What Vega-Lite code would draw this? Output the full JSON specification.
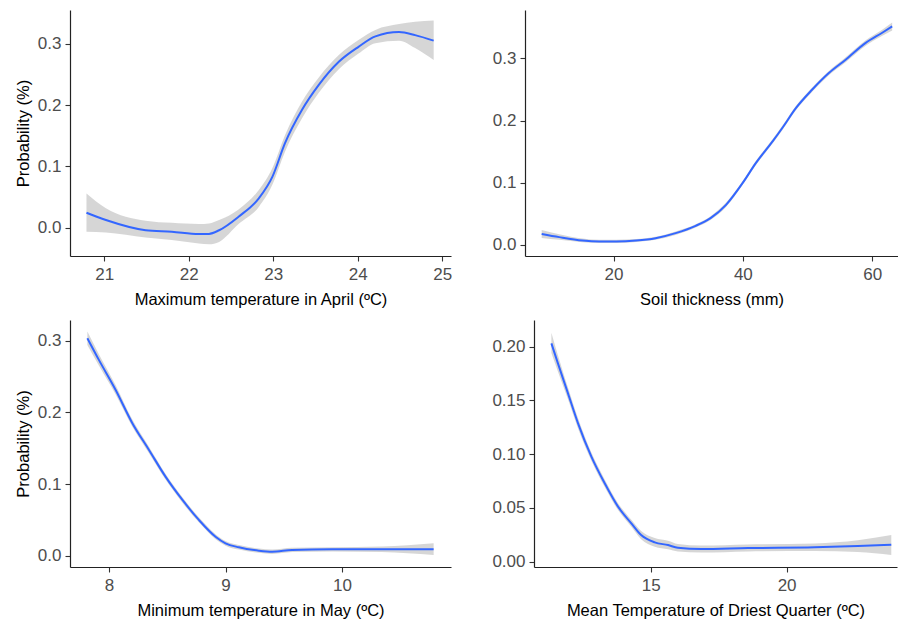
{
  "$schema": "https://vega.github.io/schema/vega-lite/v6.json",
  "background": "white",
  "padding": {"left": 15, "top": 10, "right": 0, "bottom": 0},
  "config": {
    "view": {"stroke": null},
    "font": "Liberation Sans",
    "axis": {
      "grid": false,
      "domainColor": "#222222",
      "domainWidth": 1.2,
      "tickColor": "#333333",
      "tickSize": 5,
      "tickWidth": 1.1,
      "labelColor": "#4D4D4D",
      "labelFont": "Liberation Sans",
      "labelFontSize": 17,
      "labelPadding": 4,
      "labelFlush": false,
      "labelOverlap": false,
      "titleFont": "Liberation Sans",
      "titleFontSize": 16.5,
      "titleFontWeight": "normal",
      "titleColor": "#000000"
    },
    "axisX": {"titlePadding": 9, "labelPadding": 5},
    "axisY": {"titlePadding": 6}
  },
  "datasets": {
    "p1": [
      {"x": 20.79, "y": 0.0245, "lo": -0.0065, "hi": 0.056},
      {"x": 21.02, "y": 0.0126, "lo": -0.0075, "hi": 0.032},
      {"x": 21.49, "y": -0.004, "lo": -0.0157, "hi": 0.0115},
      {"x": 21.8, "y": -0.0065, "lo": -0.02, "hi": 0.008},
      {"x": 22.12, "y": -0.0103, "lo": -0.0255, "hi": 0.006},
      {"x": 22.24, "y": -0.01, "lo": -0.027, "hi": 0.007},
      {"x": 22.36, "y": -0.004, "lo": -0.023, "hi": 0.0126},
      {"x": 22.59, "y": 0.018, "lo": 0.006, "hi": 0.03},
      {"x": 22.83, "y": 0.048, "lo": 0.034, "hi": 0.0615},
      {"x": 22.99, "y": 0.083, "lo": 0.07, "hi": 0.097},
      {"x": 23.14, "y": 0.138, "lo": 0.124, "hi": 0.151},
      {"x": 23.34, "y": 0.192, "lo": 0.178, "hi": 0.2055},
      {"x": 23.54, "y": 0.233, "lo": 0.22, "hi": 0.245},
      {"x": 23.78, "y": 0.271, "lo": 0.259, "hi": 0.282},
      {"x": 24.01, "y": 0.295, "lo": 0.284, "hi": 0.306},
      {"x": 24.21, "y": 0.312, "lo": 0.301, "hi": 0.3225},
      {"x": 24.49, "y": 0.319, "lo": 0.305, "hi": 0.332},
      {"x": 24.68, "y": 0.314, "lo": 0.293, "hi": 0.336},
      {"x": 24.9, "y": 0.305, "lo": 0.2735, "hi": 0.338}
    ],
    "p2": [
      {"x": 8.88, "y": 0.0175, "lo": 0.011, "hi": 0.024},
      {"x": 11.6, "y": 0.0124, "lo": 0.008, "hi": 0.017},
      {"x": 15.2, "y": 0.0069, "lo": 0.004, "hi": 0.01},
      {"x": 17.8, "y": 0.0054, "lo": 0.003, "hi": 0.008},
      {"x": 20.4, "y": 0.0054, "lo": 0.003, "hi": 0.008},
      {"x": 23.5, "y": 0.0069, "lo": 0.0045, "hi": 0.0093},
      {"x": 26.5, "y": 0.0107, "lo": 0.008, "hi": 0.013},
      {"x": 29.6, "y": 0.0188, "lo": 0.016, "hi": 0.0215},
      {"x": 32.7, "y": 0.0306, "lo": 0.028, "hi": 0.033},
      {"x": 35.0, "y": 0.043, "lo": 0.04, "hi": 0.046},
      {"x": 37.4, "y": 0.0644, "lo": 0.061, "hi": 0.068},
      {"x": 40.0, "y": 0.1, "lo": 0.097, "hi": 0.103},
      {"x": 42.0, "y": 0.1315, "lo": 0.128, "hi": 0.135},
      {"x": 44.6, "y": 0.1664, "lo": 0.163, "hi": 0.17},
      {"x": 46.1, "y": 0.188, "lo": 0.1845, "hi": 0.1915},
      {"x": 48.2, "y": 0.22, "lo": 0.2165, "hi": 0.2235},
      {"x": 50.7, "y": 0.2496, "lo": 0.246, "hi": 0.253},
      {"x": 53.3, "y": 0.2765, "lo": 0.273, "hi": 0.28},
      {"x": 55.9, "y": 0.298, "lo": 0.294, "hi": 0.302},
      {"x": 59.0, "y": 0.325, "lo": 0.3205, "hi": 0.3295},
      {"x": 61.5, "y": 0.341, "lo": 0.336, "hi": 0.346},
      {"x": 63.1, "y": 0.3515, "lo": 0.345, "hi": 0.358}
    ],
    "p3": [
      {"x": 7.814, "y": 0.3036, "lo": 0.294, "hi": 0.313},
      {"x": 7.914, "y": 0.273, "lo": 0.265, "hi": 0.281},
      {"x": 8.057, "y": 0.2314, "lo": 0.225, "hi": 0.238},
      {"x": 8.2, "y": 0.185, "lo": 0.18, "hi": 0.19},
      {"x": 8.343, "y": 0.1476, "lo": 0.143, "hi": 0.152},
      {"x": 8.486, "y": 0.11, "lo": 0.106, "hi": 0.114},
      {"x": 8.63, "y": 0.0778, "lo": 0.074, "hi": 0.0815},
      {"x": 8.771, "y": 0.0499, "lo": 0.0465, "hi": 0.0535},
      {"x": 8.914, "y": 0.0265, "lo": 0.023, "hi": 0.03},
      {"x": 9.0, "y": 0.0173, "lo": 0.014, "hi": 0.0205},
      {"x": 9.114, "y": 0.0117, "lo": 0.0085, "hi": 0.015},
      {"x": 9.286, "y": 0.007, "lo": 0.004, "hi": 0.01},
      {"x": 9.4, "y": 0.0056, "lo": 0.0025, "hi": 0.0087},
      {"x": 9.571, "y": 0.008, "lo": 0.005, "hi": 0.011},
      {"x": 9.914, "y": 0.0089, "lo": 0.006, "hi": 0.0118},
      {"x": 10.34, "y": 0.0089, "lo": 0.005, "hi": 0.0128},
      {"x": 10.786, "y": 0.0089, "lo": 0.001, "hi": 0.0175}
    ],
    "p4": [
      {"x": 11.35, "y": 0.2031, "lo": 0.194, "hi": 0.213},
      {"x": 11.59, "y": 0.1845, "lo": 0.177, "hi": 0.192},
      {"x": 11.96, "y": 0.1566, "lo": 0.151, "hi": 0.162},
      {"x": 12.33, "y": 0.1287, "lo": 0.124, "hi": 0.1335},
      {"x": 12.82, "y": 0.0977, "lo": 0.094, "hi": 0.1015},
      {"x": 13.31, "y": 0.0729, "lo": 0.0695, "hi": 0.0765},
      {"x": 13.8, "y": 0.0512, "lo": 0.048, "hi": 0.0545},
      {"x": 14.29, "y": 0.0357, "lo": 0.0325, "hi": 0.039},
      {"x": 14.65, "y": 0.0248, "lo": 0.021, "hi": 0.0285},
      {"x": 15.15, "y": 0.018, "lo": 0.014, "hi": 0.022},
      {"x": 15.64, "y": 0.0155, "lo": 0.0115, "hi": 0.0195},
      {"x": 16.0, "y": 0.013, "lo": 0.0095, "hi": 0.0165},
      {"x": 16.86, "y": 0.0118, "lo": 0.0085, "hi": 0.015},
      {"x": 18.58, "y": 0.0127, "lo": 0.0095, "hi": 0.016},
      {"x": 21.03, "y": 0.0134, "lo": 0.01, "hi": 0.017},
      {"x": 22.62, "y": 0.0146, "lo": 0.009, "hi": 0.02},
      {"x": 23.85, "y": 0.0158, "lo": 0.0062, "hi": 0.0248}
    ]
  },
  "spacing": 12,
  "vconcat": [
    {
      "spacing": 40,
      "hconcat": [
        {
          "data": {"name": "p1"},
          "width": 381,
          "height": 246,
          "encoding": {
            "x": {"field": "x", "type": "quantitative", "scale": {"domain": [20.595, 25.105], "nice": false, "zero": false}, "axis": {"values": [21, 22, 23, 24, 25], "format": "d", "title": "Maximum temperature in April (ºC)"}}
          },
          "layer": [
            {"mark": {"type": "area", "color": "#999999", "opacity": 0.4, "clip": true, "interpolate": "monotone"},
             "encoding": {"y": {"field": "lo", "type": "quantitative", "scale": {"domain": [-0.046, 0.355], "nice": false, "zero": false}, "axis": {"values": [0, 0.1, 0.2, 0.3], "format": ".1f", "title": "Probability (%)"}}, "y2": {"field": "hi"}}},
            {"mark": {"type": "line", "color": "#3366FF", "strokeWidth": 2, "clip": true, "interpolate": "monotone"},
             "encoding": {"y": {"field": "y", "type": "quantitative"}}}
          ]
        },
        {
          "data": {"name": "p2"},
          "width": 373,
          "height": 246,
          "encoding": {
            "x": {"field": "x", "type": "quantitative", "scale": {"domain": [6.3, 64.0], "nice": false, "zero": false}, "axis": {"values": [20, 40, 60], "format": "d", "title": "Soil thickness (mm)"}}
          },
          "layer": [
            {"mark": {"type": "area", "color": "#999999", "opacity": 0.4, "clip": true, "interpolate": "monotone"},
             "encoding": {"y": {"field": "lo", "type": "quantitative", "scale": {"domain": [-0.018, 0.378], "nice": false, "zero": false}, "axis": {"values": [0, 0.1, 0.2, 0.3], "format": ".1f", "title": null}}, "y2": {"field": "hi"}}},
            {"mark": {"type": "line", "color": "#3366FF", "strokeWidth": 2, "clip": true, "interpolate": "monotone"},
             "encoding": {"y": {"field": "y", "type": "quantitative"}}}
          ]
        }
      ]
    },
    {
      "spacing": 40,
      "hconcat": [
        {
          "data": {"name": "p3"},
          "width": 381,
          "height": 247,
          "encoding": {
            "x": {"field": "x", "type": "quantitative", "scale": {"domain": [7.665, 10.935], "nice": false, "zero": false}, "axis": {"values": [8, 9, 10], "format": "d", "title": "Minimum temperature in May (ºC)"}}
          },
          "layer": [
            {"mark": {"type": "area", "color": "#999999", "opacity": 0.4, "clip": true, "interpolate": "monotone"},
             "encoding": {"y": {"field": "lo", "type": "quantitative", "scale": {"domain": [-0.0158, 0.329], "nice": false, "zero": false}, "axis": {"values": [0, 0.1, 0.2, 0.3], "format": ".1f", "title": "Probability (%)"}}, "y2": {"field": "hi"}}},
            {"mark": {"type": "line", "color": "#3366FF", "strokeWidth": 2, "clip": true, "interpolate": "monotone"},
             "encoding": {"y": {"field": "y", "type": "quantitative"}}}
          ]
        },
        {
          "data": {"name": "p4"},
          "width": 363,
          "height": 247,
          "encoding": {
            "x": {"field": "x", "type": "quantitative", "scale": {"domain": [10.71, 24.06], "nice": false, "zero": false}, "axis": {"values": [15, 20], "format": "d", "title": "Mean Temperature of Driest Quarter (ºC)"}}
          },
          "layer": [
            {"mark": {"type": "area", "color": "#999999", "opacity": 0.4, "clip": true, "interpolate": "monotone"},
             "encoding": {"y": {"field": "lo", "type": "quantitative", "scale": {"domain": [-0.0049, 0.2248], "nice": false, "zero": false}, "axis": {"values": [0, 0.05, 0.1, 0.15, 0.2], "format": ".2f", "title": null}}, "y2": {"field": "hi"}}},
            {"mark": {"type": "line", "color": "#3366FF", "strokeWidth": 2, "clip": true, "interpolate": "monotone"},
             "encoding": {"y": {"field": "y", "type": "quantitative"}}}
          ]
        }
      ]
    }
  ]
}
